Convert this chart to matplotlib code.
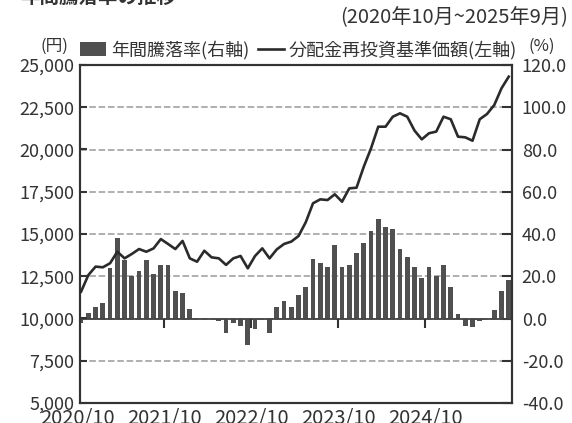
import matplotlib
matplotlib.use("Agg")
import matplotlib.pyplot as plt
import matplotlib.transforms as mtransforms
from matplotlib.patches import Patch
from matplotlib.lines import Line2D
import numpy as np

plt.rcParams['font.family'] = ['Noto Sans CJK JP', 'DejaVu Sans']

# ---- data (monthly, 2020/10 .. 2025/9) ----
annual_change_pct = [
    -2.0, 2.4, 5.4, 7.3, 24.0, 38.1, 27.9, 20.0, 22.4, 27.9, 21.3, 25.1,
    25.1, 13.0, 11.9, 4.3, 0.0, 0.0, -0.3, -1.0, -7.0, -2.0, -3.5, -12.5,
    -4.8, 0.0, -6.7, 5.4, 8.3, 5.4, 11.1, 14.9, 28.1, 26.2, 24.4, 34.8,
    24.4, 25.2, 31.0, 35.7, 41.6, 47.1, 43.5, 42.4, 32.9, 28.9, 24.3, 19.4,
    24.3, 20.0, 25.3, 14.9, 2.1, -3.4, -4.2, -1.3, -0.3, 4.2, 12.9, 18.4,
]
nav_reinvested = [
    11590, 12570, 13070, 13030, 13270, 13950, 13560, 13820, 14110, 13950, 14150, 14700,
    14410, 14110, 14590, 13560, 13360, 14010, 13620, 13560, 13170, 13560, 13700, 12970,
    13700, 14150, 13560, 14090, 14410, 14550, 14880, 15700, 16820, 17050, 17010, 17350,
    16910, 17700, 17740, 18980, 20070, 21350, 21350, 21940, 22140, 21940, 21120, 20600,
    20960, 21060, 21940, 21790, 20760, 20720, 20520, 21790, 22100, 22630, 23620, 24310,
]
x_tick_labels = ['2020/10', '2021/10', '2022/10', '2023/10', '2024/10']
x_tick_pos = [-0.5, 11.5, 23.5, 35.5, 47.5]
left_ticks = [5000, 7500, 10000, 12500, 15000, 17500, 20000, 22500, 25000]
right_ticks = [-40, -20, 0, 20, 40, 60, 80, 100, 120]

title = '年間騰落率の推移'
period = '(2020年10月~2025年9月)'
bar_label = '年間騰落率(右軸)'
line_label = '分配金再投資基準価額(左軸)'

bar_color = '#505050'
line_color = '#2b2b2b'
axis_color = '#333333'
text_color = '#333333'
grid_color = '#9a9a9a'
FS = 13

W, H = 572, 423
fig = plt.figure(figsize=(W / 100, H / 100), dpi=100)
ax = fig.add_axes([80 / W, 20 / H, 432 / W, 338 / H])
ax2 = ax.twinx()

x = np.arange(len(annual_change_pct))

# bars (right axis)
ax2.bar(x, annual_change_pct, width=0.66, color=bar_color, zorder=2)
ax2.set_ylim(-40, 120)
ax2.set_yticks(right_ticks)
ax2.set_yticklabels([f'{v:.1f}' for v in right_ticks])
ax2.grid(axis='y', color=grid_color, linestyle=(0, (4.3, 1.8)), linewidth=1.1, zorder=0)
ax2.set_axisbelow(True)
ax2.axhline(0, color='#444444', lw=1.3, zorder=3)
ax2.vlines(x_tick_pos, -4.7, 0, color=axis_color, lw=1.5, zorder=3)

# line (left axis), drawn on top
ax.set_zorder(ax2.get_zorder() + 1)
ax.patch.set_visible(False)
ax.plot(x, nav_reinvested, color=line_color, lw=1.9, zorder=4)
ax.set_ylim(5000, 25000)
ax.set_yticks(left_ticks)
ax.set_yticklabels([f'{v:,}' for v in left_ticks])
ax.set_xlim(-0.15, 59.45)
ax.set_xticks([])

for a in (ax, ax2):
    for s in a.spines.values():
        s.set_color(axis_color)
        s.set_linewidth(1.5)
ax.tick_params(axis='y', direction='in', length=5, width=1.5, color=axis_color,
               labelsize=FS, labelcolor=text_color, pad=4)
ax2.tick_params(axis='y', direction='in', length=7, width=1.5, color=axis_color,
                labelsize=FS, labelcolor=text_color, pad=7)

# x labels
trans = mtransforms.blended_transform_factory(ax.transData, ax.transAxes)
for p, lab in zip(x_tick_pos, x_tick_labels):
    ax.text(p, -0.014, lab, transform=trans, ha='center', va='top', fontsize=14.5,
            color=text_color, clip_on=False)

# legend
handles = [Patch(facecolor=bar_color, edgecolor='none'),
           Line2D([0], [0], color=line_color, lw=1.9)]
leg = ax.legend(handles, [bar_label, line_label], loc='lower left',
                bbox_to_anchor=(0, 1.017), ncol=2, frameon=False, fontsize=FS,
                handlelength=1.45, handleheight=0.85, handletextpad=0.25,
                columnspacing=0.5, borderaxespad=0, borderpad=0)
for t in leg.get_texts():
    t.set_color(text_color)

fig.text(68 / W, 1 - 46 / H, '(円)', ha='right', va='center', fontsize=FS - 1, color=text_color)
fig.text(528 / W, 1 - 46 / H, '(%)', ha='left', va='center', fontsize=FS - 1, color=text_color)
fig.text(568 / W, 1 - 18 / H, period, ha='right', va='center', fontsize=14.5, color=text_color)
fig.text(20 / W, 1 + 3 / H, title, ha='left', va='center', fontsize=14, fontweight='bold',
         color=text_color)

fig.savefig('out.png', dpi=100)
